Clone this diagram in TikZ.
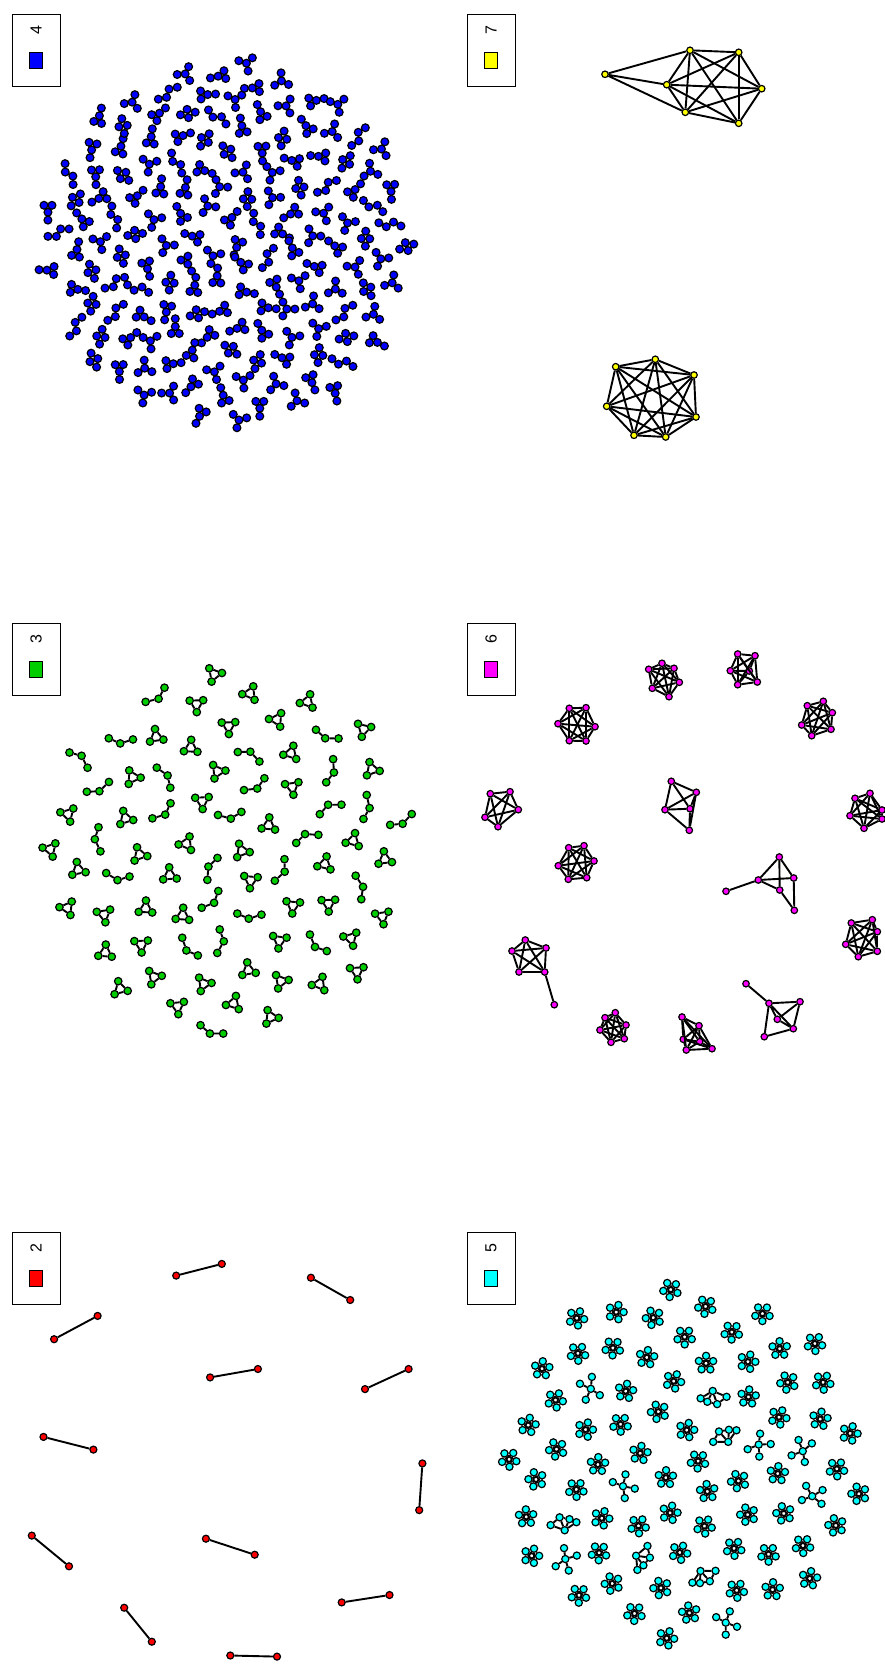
\documentclass[tikz,border=0pt]{standalone}
\usepackage{fontspec}
\setmainfont{Liberation Sans}
\definecolor{cb}{RGB}{0,0,255}
\definecolor{cg}{RGB}{0,205,0}
\definecolor{cr}{RGB}{255,0,0}
\definecolor{cc}{RGB}{0,255,255}
\definecolor{cm}{RGB}{255,0,255}
\definecolor{cy}{RGB}{255,255,0}
\tikzset{
  vx/.style={circle,draw=black,line width=1.2pt,inner sep=0pt},
  vb/.style={vx,fill=cb,minimum size=7.8pt},
  vg/.style={vx,fill=cg,minimum size=7.5pt},
  vr/.style={vx,fill=cr,minimum size=7pt},
  vc/.style={vx,fill=cc,minimum size=7.2pt},
  vm/.style={vx,fill=cm,minimum size=6.5pt},
  vy/.style={vx,fill=cy,minimum size=6.5pt},
  edge/.style={line width=1.9pt,black},
  legframe/.style={draw,line width=0.9pt,minimum width=48pt,minimum height=72pt,anchor=north west,inner sep=0pt},
  legsq/.style={draw,line width=0.9pt,minimum width=13pt,minimum height=16pt,inner sep=0pt},
  legtxt/.style={rotate=90,inner sep=0pt,font=\fontsize{16}{16}\selectfont}
}
\newcommand\cliq[2]{\foreach \ua in {1,...,#2}{\foreach \ub in {1,...,#2}{\ifnum\ua<\ub\relax \draw[edge] (#1\ua)--(#1\ub);\fi}}}
\newcommand\legbox[5]{%
  \node[legframe] (#1) at (#2,#3) {};
  \node[legtxt] (#1t) at ([xshift=24pt,yshift=-16pt]#1.north west) {#5};
  \node[legsq,fill=#4] (#1s) at ([xshift=24pt,yshift=-46pt]#1.north west) {};}
% blue shapes (4 nodes)
\newcommand\bA[1]{%
  \node[vb] (#1-1) at (90:4.6) {}; \node[vb] (#1-2) at (210:4.6) {};
  \node[vb] (#1-3) at (330:4.6) {}; \node[vb] (#1-4) at (90:12.5) {};
  \draw[edge] (#1-1)--(#1-2)--(#1-3)--(#1-1)--(#1-4);}
\newcommand\bB[1]{%
  \node[vb] (#1-0) at (0,0) {};
  \node[vb] (#1-1) at (0:8) {}; \node[vb] (#1-2) at (120:8) {}; \node[vb] (#1-3) at (240:8) {};
  \draw[edge] (#1-0)--(#1-1) (#1-0)--(#1-2) (#1-0)--(#1-3);}
\newcommand\bC[1]{%
  \node[vb] (#1-1) at (0,-4.2) {}; \node[vb] (#1-2) at (0,4.2) {};
  \node[vb] (#1-3) at (-7.5,0) {}; \node[vb] (#1-4) at (7.5,0) {};
  \draw[edge] (#1-1)--(#1-2) (#1-1)--(#1-3)--(#1-2)--(#1-4)--(#1-1);}
\newcommand\bD[1]{%
  \node[vb] (#1-1) at (-11,-2) {}; \node[vb] (#1-2) at (-3.7,2.2) {};
  \node[vb] (#1-3) at (3.7,-2.2) {}; \node[vb] (#1-4) at (11,2) {};
  \draw[edge] (#1-1)--(#1-2)--(#1-3)--(#1-4);}
% green shapes (3 nodes)
\newcommand\gA[1]{%
  \node[vg] (#1-1) at (90:7.8) {}; \node[vg] (#1-2) at (210:7.8) {}; \node[vg] (#1-3) at (330:7.8) {};
  \draw[edge] (#1-1)--(#1-2)--(#1-3)--(#1-1);}
\newcommand\gB[1]{%
  \node[vg] (#1-1) at (-13,3) {}; \node[vg] (#1-2) at (0,0) {}; \node[vg] (#1-3) at (6,-11) {};
  \draw[edge] (#1-1)--(#1-2)--(#1-3);}
\newcommand\gC[1]{%
  \node[vg] (#1-1) at (-13,1) {}; \node[vg] (#1-2) at (0,-2) {}; \node[vg] (#1-3) at (11,4) {};
  \draw[edge] (#1-1)--(#1-2)--(#1-3);}
% cyan shapes (5 nodes)
\newcommand\cA[1]{%
  \node[vc] (#1-1) at (90:7.5) {}; \node[vc] (#1-2) at (162:7.5) {}; \node[vc] (#1-3) at (234:7.5) {};
  \node[vc] (#1-4) at (306:7.5) {}; \node[vc] (#1-5) at (18:7.5) {};
  \cliq{#1-}{5}}
\newcommand\cB[1]{%
  \node[vc] (#1-1) at (0,0) {}; \node[vc] (#1-2) at (110:11) {}; \node[vc] (#1-3) at (190:12) {};
  \node[vc] (#1-4) at (280:12) {}; \node[vc] (#1-5) at (350:12) {};
  \draw[edge] (#1-1)--(#1-2) (#1-1)--(#1-3) (#1-1)--(#1-4) (#1-1)--(#1-5);}
\newcommand\cC[1]{%
  \node[vc] (#1-1) at (-12,4) {}; \node[vc] (#1-2) at (-4.5,5) {}; \node[vc] (#1-3) at (5.5,4) {};
  \node[vc] (#1-4) at (-3,-7) {}; \node[vc] (#1-5) at (12,-6) {};
  \draw[edge] (#1-1)--(#1-2)--(#1-3)--(#1-5)--(#1-4)--(#1-1) (#1-2)--(#1-4)--(#1-3);}
\begin{document}
\begin{tikzpicture}[x=1pt,y=-1pt]
\fill[white] (0,0) rectangle (884,1664);
\useasboundingbox (0,0) rectangle (884,1664);
\pgfmathsetseed{11}
% ---------- panel 4 (blue) ----------
\foreach \i in {0,...,149}{
  \pgfmathsetmacro\rr{182*sqrt((\i+0.5)/150)+4*(rnd-0.5)}
  \pgfmathsetmacro\th{2*mod(\i*68.754,180)}
  \pgfmathsetmacro\rot{360*rnd}
  \pgfmathsetmacro\uu{rnd}
  \pgfmathtruncatemacro\typ{\uu<0.4?0:(\uu<0.65?1:(\uu<0.85?2:3))}
  \begin{scope}[shift={({227+\rr*cos(\th)},{243+\rr*sin(\th)})},rotate=\rot]
    \ifcase\typ \bA{b\i}\or \bB{b\i}\or \bC{b\i}\or \bD{b\i}\fi
  \end{scope}
}
% ---------- panel 3 (green) ----------
\foreach \i in {0,...,74}{
  \pgfmathsetmacro\rr{182*sqrt((\i+0.5)/75)+5*(rnd-0.5)}
  \pgfmathsetmacro\th{2*mod(\i*68.754,180)}
  \pgfmathsetmacro\rot{360*rnd}
  \pgfmathsetmacro\uu{rnd}
  \pgfmathtruncatemacro\typ{\uu<0.6?0:(\uu<0.8?1:2)}
  \begin{scope}[shift={({228+\rr*cos(\th)},{851+\rr*sin(\th)})},rotate=\rot]
    \ifcase\typ \gA{g\i}\or \gB{g\i}\or \gC{g\i}\fi
  \end{scope}
}
% ---------- panel 5 (cyan) ----------
\foreach \i in {0,...,77}{
  \pgfmathsetmacro\rr{182*sqrt((\i+0.5)/78)+5*(rnd-0.5)}
  \pgfmathsetmacro\th{2*mod(\i*68.754,180)}
  \pgfmathsetmacro\rot{360*rnd}
  \pgfmathsetmacro\uu{rnd}
  \pgfmathtruncatemacro\typ{\uu<0.82?0:(\uu<0.91?1:2)}
  \begin{scope}[shift={({684+\rr*cos(\th)},{1461+\rr*sin(\th)})},rotate=\rot]
    \ifcase\typ \cA{c\i}\or \cB{c\i}\or \cC{c\i}\fi
  \end{scope}
}
% ---------- panel 2 (red) ----------
\foreach \ax/\ay/\bx/\by [count=\k] in {
  176.2/1275.6/221.8/1263.9, 310.9/1277.7/350.2/1300, 54.1/1339.2/97.6/1315.9,
  210.1/1377.4/257.9/1369, 365/1389.1/408.6/1369, 43.5/1436.9/93.4/1449.6,
  422.4/1463.4/419.2/1510.1, 31.8/1535.6/69/1566.3, 205.9/1538.7/254.7/1554.7,
  341.7/1602.4/389.5/1595, 124.2/1607.7/151.8/1641.7, 230.3/1655.5/277/1656.6}{
  \node[vr] (r\k-1) at (\ax,\ay) {};
  \node[vr] (r\k-2) at (\bx,\by) {};
  \draw[edge] (r\k-1)--(r\k-2);
}
% ---------- panel 7 (yellow) ----------
\foreach \p [count=\k] in {(605,74.3),(690,50.3),(738.7,52.3),(761.7,88.7),(738.7,123.3),(685.3,112.3),(666.7,84.7)}
  \node[vy] (ya\k) at \p {};
\draw[edge] (ya1)--(ya2) (ya1)--(ya7) (ya1)--(ya6);
\foreach \ua in {2,...,7}{\foreach \ub in {2,...,7}{\ifnum\ua<\ub\relax \draw[edge] (ya\ua)--(ya\ub);\fi}}
\foreach \p [count=\k] in {(615.7,366.7),(655.3,359.3),(694,375),(696,417),(665.7,437),(634,435.3),(606.7,406.3)}
  \node[vy] (yb\k) at \p {};
\cliq{yb}{7}
% ---------- panel 6 (magenta) ----------
\foreach \p [count=\k] in {(648.7,669.3),(662,663.3),(674,668.3),(679.3,682.3),(669,696.7),(652.3,688.3)}
  \node[vm] (ma\k) at \p {};
\cliq{ma}{6}
\foreach \p [count=\k] in {(737.7,654),(755,655.7),(757.3,682),(737.7,684.7),(730.3,670.7),(749.3,671)}
  \node[vm] (mb\k) at \p {};
\cliq{mb}{6}
\foreach \p [count=\k] in {(569.3,708.3),(586,707.7),(595,726.7),(586,741),(569.3,740.7),(558,723.7)}
  \node[vm] (mc\k) at \p {};
\cliq{mc}{6}
\foreach \p [count=\k] in {(807.3,705.7),(823.3,701.3),(832.3,712.7),(831,729.3),(811.7,735.7),(801.7,725)}
  \node[vm] (md\k) at \p {};
\cliq{md}{6}
\foreach \p [count=\k] in {(490.3,793.7),(510,791.7),(518.3,809.7),(498,826.7),(485,817.3)}
  \node[vm] (me\k) at \p {};
\cliq{me}{5}
\foreach \p [count=\k] in {(671.3,781.3),(696.3,792.3),(665,809.7),(690,808.7),(689.3,830.3)}
  \node[vm] (mf\k) at \p {};
\draw[edge] (mf1)--(mf2) (mf1)--(mf3) (mf1)--(mf4) (mf2)--(mf3) (mf2)--(mf4) (mf2)--(mf5) (mf3)--(mf4) (mf3)--(mf5) (mf4)--(mf5);
\foreach \p [count=\k] in {(855,798.3),(870,793.3),(882,810),(882,819),(864,828.3),(850,815.7)}
  \node[vm] (mg\k) at \p {};
\cliq{mg}{6}
\foreach \p [count=\k] in {(568.7,847.7),(584,845.7),(594,861),(586.7,877.7),(568.3,879.3),(558.3,865.7)}
  \node[vm] (mh\k) at \p {};
\cliq{mh}{6}
\foreach \p [count=\k] in {(726,891.3),(758.3,880),(779.3,857),(793.7,878),(779.7,890),(794.3,910.3)}
  \node[vm] (mi\k) at \p {};
\draw[edge] (mi1)--(mi2) (mi2)--(mi3) (mi2)--(mi4) (mi2)--(mi5) (mi3)--(mi4) (mi3)--(mi5) (mi4)--(mi6) (mi5)--(mi6);
\foreach \p [count=\k] in {(525.3,940),(546,948),(512,951),(519,972),(544.7,972),(554.3,1004.7)}
  \node[vm] (mj\k) at \p {};
\cliq{mj}{5}
\draw[edge] (mj5)--(mj6);
\foreach \p [count=\k] in {(851.3,923),(872.3,919.7),(877.3,931.7),(877.3,951.3),(858.3,956.7),(845.7,944.3)}
  \node[vm] (mk\k) at \p {};
\cliq{mk}{6}
\foreach \p [count=\k] in {(746,983.7),(769,1003.3),(800,1001.7),(777.3,1019.3),(793.3,1028.7),(764.3,1036.7)}
  \node[vm] (ml\k) at \p {};
\draw[edge] (ml1)--(ml2) (ml2)--(ml3) (ml2)--(ml4) (ml2)--(ml5) (ml2)--(ml6) (ml3)--(ml4) (ml3)--(ml5) (ml4)--(ml5) (ml5)--(ml6);
\foreach \p [count=\k] in {(615.3,1012.7),(626,1025),(624.3,1038.7),(611,1042.3),(600,1030),(605,1017.7)}
  \node[vm] (mn\k) at \p {};
\cliq{mn}{6}
\foreach \p [count=\k] in {(682,1017),(699,1025.7),(712,1048.7),(686.3,1050),(683.3,1039.3),(699.7,1041.7)}
  \node[vm] (mo\k) at \p {};
\cliq{mo}{6}
% ---------- legends ----------
\legbox{L4}{12}{14}{cb}{4}
\legbox{L7}{467}{14}{cy}{7}
\legbox{L3}{12}{623}{cg}{3}
\legbox{L6}{467}{623}{cm}{6}
\legbox{L2}{12}{1232}{cr}{2}
\legbox{L5}{467}{1232}{cc}{5}
\end{tikzpicture}
\end{document}
